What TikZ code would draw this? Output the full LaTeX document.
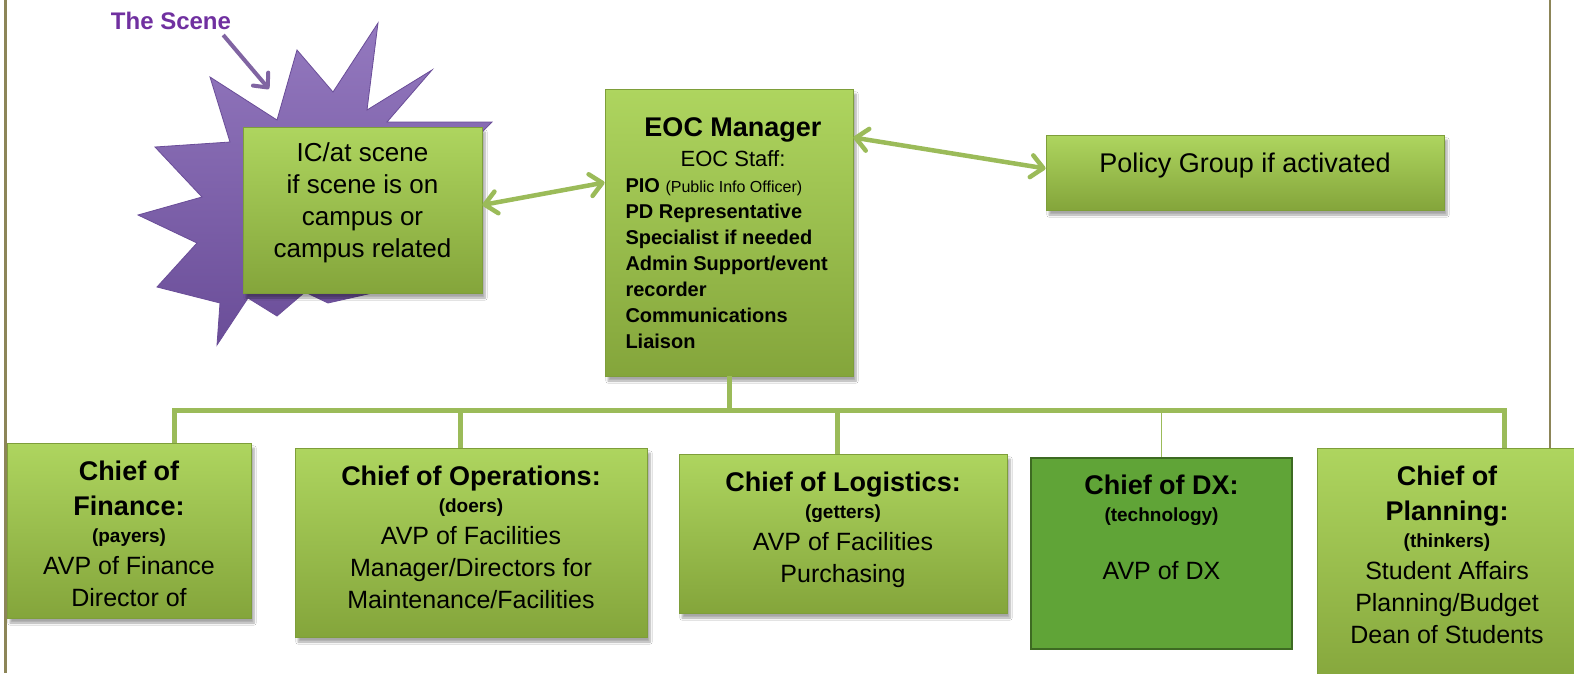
\documentclass[tikz,border=0pt]{standalone}
\usepackage{fontspec}
\setmainfont{Liberation Sans}
\usepackage{tikz}
\usetikzlibrary{arrows.meta, shadows.blur, positioning}

\definecolor{linkgreen}{HTML}{9BBB59}
\definecolor{boxtop}{HTML}{AED55F}
\definecolor{boxbottom}{HTML}{84A53B}
\definecolor{boxedge}{HTML}{7E9E3A}
\definecolor{dxfill}{HTML}{60A437}
\definecolor{dxedge}{HTML}{3D6A22}
\definecolor{scenepurple}{HTML}{7030A0}
\definecolor{starpurple}{HTML}{8064A2}
\definecolor{starlight}{HTML}{9479BF}
\definecolor{stardark}{HTML}{6A4D98}
\definecolor{pageline}{HTML}{8C8558}

% fixed word spaces of the current font inside ragged node text
\newcommand{\wordspace}{\spaceskip=\fontdimen2\font\relax\xspaceskip=\spaceskip}
\newcommand{\headtxt}{\bfseries\fontsize{27}{35}\selectfont\wordspace}
\newcommand{\roletxt}{\bfseries\fontsize{19}{27}\selectfont\wordspace}
\newcommand{\bodytxt}{\mdseries\fontsize{25}{32}\selectfont\wordspace}

\tikzstyle{box} = [rectangle, draw=boxedge, line width=0.8pt, top color=boxtop, bottom color=boxbottom, blur shadow={shadow xshift=3pt, shadow yshift=-5pt, shadow blur steps=6, shadow opacity=35}]
\tikzstyle{flatbox} = [rectangle, draw=dxedge, line width=2pt, fill=dxfill]
\tikzstyle{txt} = [inner sep=0pt, align=center, text=black]
\tikzstyle{link} = [linkgreen, line width=4.5pt, {Straight Barb[length=12pt,width=22pt,round]}-{Straight Barb[length=12pt,width=22pt,round]}]
\tikzstyle{bus} = [linkgreen, line width=5pt]

\begin{document}
\begin{tikzpicture}[x=1pt, y=-1pt]
\useasboundingbox (0,0) rectangle (1574,673);
\clip (0,0) rectangle (1574,673);
\fill[white] (0,0) rectangle (1574,673);

% page rules
\draw[pageline, line width=3pt] (5,0) -- (5,673);
\draw[pageline, line width=2pt] (1550,0) -- (1550,673);

% the burst behind the incident box
\shadedraw[top color=starlight, bottom color=stardark, draw=stardark, line width=0.8pt]
  (378,23) -- (367,110) -- (432,70) -- (387,122) -- (492,122) -- (445,170)
  -- (478,250) -- (430,280) -- (328,303) -- (305,292) -- (277,316) -- (248,298)
  -- (217,345) -- (220,303) -- (157,287) -- (197,243) -- (138,215) -- (202,197)
  -- (155,147) -- (230,142) -- (210,77) -- (277,120) -- (297,50) -- (333,92) -- cycle;

\node (scene) [text=scenepurple, font=\bfseries\fontsize{24}{28}\selectfont, inner sep=2pt] at (171,21) {The Scene};
\coordinate (scene-hit) at (269,89);
\draw[starpurple, line width=4pt, -{Straight Barb[length=11pt,width=20pt,round]}] ([xshift=-10pt,yshift=-3pt]scene.south east) -- (scene-hit);

% upper row
\node (ic) [box, minimum width=239pt, minimum height=166pt] at (362.5,210) {};
\node (eoc) [box, minimum width=248pt, minimum height=287pt] at (729,232.5) {};
\node (pol) [box, minimum width=398pt, minimum height=75pt] at (1245,172.5) {};

\node (ic-text) [txt, text width=225pt, below=16pt of ic.north] {\mdseries\fontsize{26}{32}\selectfont\wordspace IC/at scene\par if scene is on\par campus or\par campus related\par};
\node (eoc-text) [txt, align=left, text width=215pt, below=29pt of eoc.north, xshift=4pt] {%
  {\centering\headtxt EOC Manager\par
  \mdseries\fontsize{22}{30}\selectfont\wordspace EOC Staff:\par}
  \bfseries\fontsize{20}{26}\selectfont\wordspace PIO {\mdseries\fontsize{16}{26}\selectfont\wordspace (Public Info Officer)}\par
  PD Representative\par
  Specialist if needed\par
  Admin Support/event\par
  recorder\par
  Communications\par
  Liaison\par};
\node (pol-text) [txt, text width=380pt, below=18pt of pol.north] {\mdseries\fontsize{27}{32}\selectfont\wordspace Policy Group if activated\par};

\draw[link] ([yshift=5pt]ic.east) -- ([yshift=50pt]eoc.west);
\draw[link] ([yshift=95pt]eoc.east) -- ([yshift=4pt]pol.west);

% section chiefs
\node (fin) [box, minimum width=244pt, minimum height=175pt] at (129,530.5) {};
\node (ops) [box, minimum width=352pt, minimum height=189pt] at (471,542.5) {};
\node (log) [box, minimum width=328pt, minimum height=159pt] at (843,533.5) {};
\node (dx) [flatbox, minimum width=261pt, minimum height=191pt] at (1161.5,553.5) {};
\node (pln) [box, minimum width=260pt, minimum height=242pt] at (1447,569) {};

\node (fin-text) [txt, text width=230pt, below=18pt of fin.north] {\headtxt Chief of\par Finance:\par \roletxt (payers)\par \bodytxt AVP of Finance\par Director of\par};
\node (ops-text) [txt, text width=330pt, below=18pt of ops.north] {\headtxt Chief of Operations:\par \roletxt (doers)\par \bodytxt AVP of Facilities\par Manager/Directors for\par Maintenance/Facilities\par};
\node (log-text) [txt, text width=310pt, below=18pt of log.north] {\headtxt Chief of Logistics:\par \roletxt (getters)\par \bodytxt AVP of Facilities\par Purchasing\par};
\node (dx-text) [txt, text width=245pt, below=18pt of dx.north] {\headtxt Chief of DX:\par \roletxt (technology)\par \vspace{26pt}\bodytxt AVP of DX\par};
\node (pln-text) [txt, text width=245pt, below=18pt of pln.north] {\headtxt Chief of\par Planning:\par \roletxt (thinkers)\par \bodytxt Student Affairs\par Planning/Budget\par Dean of Students\par};

% tree from the manager down
\draw[bus] ([xshift=45pt]fin.north) -- ++(0,-32) coordinate (bus) -| ([xshift=57pt]pln.north);
\draw[bus] (eoc.south) -- (eoc.south |- bus);
\draw[bus] ([xshift=-11pt]ops.north) -- ([xshift=-11pt]ops.north |- bus);
\draw[bus] ([xshift=-6pt]log.north) -- ([xshift=-6pt]log.north |- bus);
\draw[linkgreen, line width=1.5pt] (dx.north) -- (dx.north |- bus);
\end{tikzpicture}
\end{document}
